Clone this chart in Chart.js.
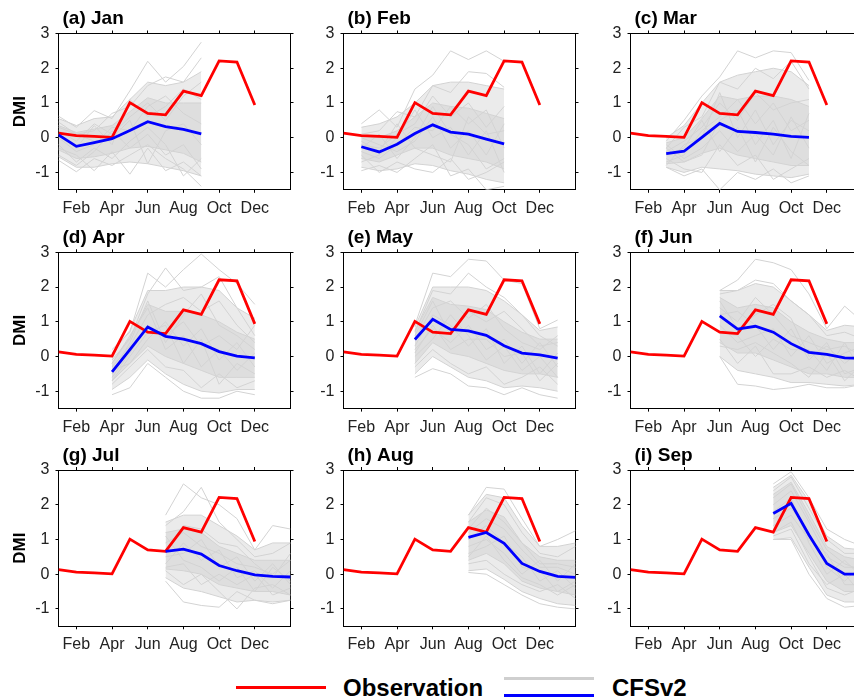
<!DOCTYPE html>
<html>
<head>
<meta charset="utf-8">
<script src="https://cdn.jsdelivr.net/npm/chart.js@4"></script>
<style>
  html, body { margin: 0; padding: 0; background: #fff; overflow: hidden; width: 854px; height: 699px; }
  body { position: relative; font-family: "Liberation Sans", Arial, sans-serif; }
  canvas { position: absolute; }
  .key { position: absolute; height: 3px; width: 90px; }
  .keytext { position: absolute; font-weight: bold; font-size: 24px; line-height: 24px; color: #000; white-space: nowrap; }
</style>
</head>
<body>
<div class="key" style="left:236px; top:686px; background:#ff0000;"></div>
<div class="keytext" style="left:343px; top:675.7px;">Observation</div>
<div class="key" style="left:504px; top:677px; background:#cfcfcf;"></div>
<div class="key" style="left:504px; top:693.5px; background:#0000ff;"></div>
<div class="keytext" style="left:612px; top:675.7px;">CFSv2</div>

<script>
// ---- axis labels -------------------------------------------------------
const monthNames = ['Jan', 'Feb', 'Mar', 'Apr', 'May', 'Jun', 'Jul', 'Aug', 'Sep', 'Oct', 'Nov', 'Dec'];
const tickMonths = [2, 4, 6, 8, 10, 12];
const dmiTicks = [-1, 0, 1, 2, 3];

// ---- observed monthly DMI, Jan..Dec -------------------------------------
const observedDMI = [0.13, 0.06, 0.04, 0.01, 1.01, 0.70, 0.66, 1.34, 1.21, 2.21, 2.18, 0.94];

// ---- forecast panels (initial month, 9 lead months each) ---------------
const panelTitles = ['(a) Jan', '(b) Feb', '(c) Mar', '(d) Apr', '(e) May', '(f) Jun', '(g) Jul', '(h) Aug', '(i) Sep'];
const initMonths = [1, 2, 3, 4, 5, 6, 7, 8, 9];

// Jan start: ensemble mean, outer / inner spread bounds, individual members
const meanJan = [0.08, -0.25, -0.14, -0.03, 0.21, 0.46, 0.32, 0.24, 0.11];
const outerLowJan  = [-0.55, -0.85, -0.85, -0.75, -0.7, -0.75, -0.85, -0.95, -1.1];
const outerHighJan = [0.55, 0.35, 0.55, 0.6, 1.1, 1.6, 1.5, 1.6, 1.9];
const innerLowJan  = [-0.35, -0.6, -0.55, -0.45, -0.3, -0.25, -0.35, -0.45, -0.7];
const innerHighJan = [0.35, 0.15, 0.25, 0.35, 0.75, 1.15, 1.0, 1.0, 1.0];
const membersJan = [
  [0.62, 0.3, 0.78, 0.55, 1.35, 2.2, 1.6, 2.05, 2.75],
  [0.45, 0.1, 0.2, 0.7, 0.9, 1.5, 1.75, 1.6, 2.3],
  [-0.65, -0.98, -0.6, -0.8, -0.5, -0.2, -0.6, -0.9, -1.4],
  [-0.3, -0.5, -0.95, -0.4, -1.05, -0.3, -0.95, -0.7, -1.1],
  [0.2, -0.1, 0.4, 0.1, 0.6, 1.0, 0.5, 1.2, 1.6],
  [0.0, -0.4, -0.2, 0.3, 0.2, 0.9, 1.2, 0.7, 0.4],
  [-0.2, -0.7, -0.3, -0.6, -0.1, 0.3, -0.2, -1.1, -0.6],
  [0.3, 0.1, -0.1, 0.0, 0.5, -0.75, 0.2, 0.4, -0.2],
  [0.1, -0.3, 0.35, -0.2, 1.1, 0.6, 0.9, 1.4, 1.1],
  [-0.5, -0.8, -0.4, 0.2, -0.3, 0.1, -0.5, -0.2, -0.9]
];

// Feb start
const meanFeb = [-0.26, -0.41, -0.19, 0.12, 0.37, 0.16, 0.10, -0.04, -0.18];
const outerLowFeb  = [-0.85, -0.95, -0.9, -0.75, -0.8, -0.95, -1.05, -1.2, -1.3];
const outerHighFeb = [0.3, 0.4, 0.6, 1.0, 1.5, 1.6, 1.6, 1.5, 1.4];
const innerLowFeb  = [-0.6, -0.7, -0.5, -0.3, -0.3, -0.5, -0.6, -0.7, -0.9];
const innerHighFeb = [0.05, 0.0, 0.2, 0.6, 1.0, 0.9, 0.85, 0.7, 0.55];
const membersFeb = [
  [0.4, 0.8, 0.3, 1.4, 1.8, 2.5, 2.25, 2.5, 2.2],
  [0.1, 0.2, 0.75, 0.6, 1.5, 1.3, 1.9, 1.85, 1.45],
  [-0.95, -0.8, -1.0, -0.6, -0.2, -1.1, -0.9, -1.5, -1.4],
  [-0.5, -1.0, -0.7, -0.9, -1.0, -0.6, -1.2, -1.0, -0.7],
  [-0.2, -0.3, 0.1, 0.4, 1.2, 0.6, 1.0, 0.3, 0.9],
  [-0.4, -0.6, -0.2, 0.3, 0.2, 0.9, 0.4, 0.8, -0.3],
  [0.0, -0.2, -0.4, -0.1, 0.6, -0.3, 0.2, -0.5, 0.4],
  [-0.7, -0.5, 0.0, 0.8, 0.0, 0.3, -0.5, 0.2, -1.0],
  [-0.3, 0.1, -0.6, 0.0, 0.9, 0.1, -0.2, -0.9, -0.6],
  [-0.1, -0.4, 0.4, -0.3, -0.5, -0.7, 0.6, 0.1, 0.2]
];

// Mar start
const meanMar = [-0.46, -0.39, 0.01, 0.41, 0.18, 0.15, 0.10, 0.04, 0.01];
const outerLowMar  = [-0.85, -1.0, -0.85, -0.9, -0.95, -1.05, -1.1, -1.15, -1.05];
const outerHighMar = [0.0, 0.35, 1.0, 1.6, 1.8, 1.9, 2.0, 1.9, 1.5];
const innerLowMar  = [-0.75, -0.7, -0.45, -0.3, -0.5, -0.6, -0.7, -0.8, -0.8];
const innerHighMar = [-0.15, 0.0, 0.55, 1.2, 1.1, 1.2, 1.2, 1.1, 0.9];
const membersMar = [
  [-0.1, 0.5, 1.2, 1.75, 2.5, 2.3, 2.5, 2.45, 1.65],
  [-0.3, 0.3, 0.6, 1.6, 1.4, 2.0, 1.7, 2.2, 1.4],
  [-0.85, -1.1, -0.9, -1.5, -1.0, -1.2, -0.9, -1.3, -1.1],
  [-0.6, -0.9, -1.0, -0.2, -0.8, -0.5, -1.2, -0.9, -0.6],
  [-0.4, -0.1, 0.3, 1.0, 0.5, 1.3, 0.8, 1.0, 1.1],
  [-0.7, -0.5, 0.2, 0.6, 1.1, 0.4, 1.0, 0.2, 0.5],
  [-0.2, -0.6, -0.3, 0.2, -0.4, 0.1, -0.5, 0.6, -0.3],
  [-0.5, -0.3, 0.5, -0.4, 0.3, -0.7, 0.3, -0.4, -0.8],
  [-0.8, -0.2, 0.0, 1.3, 0.0, 0.8, -0.2, 0.5, 0.2],
  [-0.3, -0.7, -0.5, 0.5, 0.8, -0.2, 0.5, -0.6, 0.7]
];

// Apr start
const meanApr = [-0.44, 0.2, 0.85, 0.58, 0.50, 0.37, 0.14, 0.01, -0.04];
const outerLowApr  = [-0.95, -0.6, -0.1, -0.5, -0.8, -1.0, -1.05, -0.95, -0.95];
const outerHighApr = [0.1, 0.75, 1.9, 1.9, 2.0, 2.0, 1.9, 1.4, 1.1];
const innerLowApr  = [-0.7, -0.2, 0.3, 0.0, -0.2, -0.4, -0.6, -0.6, -0.6];
const innerHighApr = [-0.2, 0.55, 1.5, 1.3, 1.3, 1.2, 1.0, 0.7, 0.5];
const membersApr = [
  [0.2, 0.7, 2.4, 2.0, 2.5, 2.95, 2.5, 2.1, 1.5],
  [-0.1, 0.5, 1.8, 2.55, 1.9, 2.0, 2.3, 1.4, 0.6],
  [-1.1, -0.9, -0.2, -0.6, -1.0, -1.2, -1.2, -1.0, -1.1],
  [-0.8, -0.3, 0.2, -0.3, -0.4, -0.9, -0.5, -0.9, -0.7],
  [-0.3, 0.3, 1.2, 1.5, 1.7, 1.3, 1.6, 0.9, 0.4],
  [-0.6, 0.1, 0.9, 0.6, 1.0, 0.3, 0.6, 0.2, 0.9],
  [-0.4, -0.2, 0.5, 1.0, 0.3, 0.8, -0.1, 0.4, -0.3],
  [-0.2, 0.6, 1.4, 0.2, 0.6, -0.3, 0.2, -0.4, 0.1],
  [-0.7, 0.0, 0.7, 0.9, -0.2, 0.5, -0.8, -0.2, -0.5],
  [-0.5, 0.4, 1.6, 0.4, 1.2, 1.8, 0.9, 0.6, 0.2]
];

// May start
const meanMay = [0.49, 1.07, 0.78, 0.74, 0.61, 0.31, 0.10, 0.05, -0.05];
const outerLowMay  = [-0.5, 0.0, -0.3, -0.6, -0.7, -0.9, -0.85, -0.9, -1.0];
const outerHighMay = [0.85, 2.0, 2.0, 2.0, 1.9, 1.6, 1.2, 0.75, 0.85];
const innerLowMay  = [-0.2, 0.4, 0.1, 0.0, -0.2, -0.4, -0.5, -0.5, -0.6];
const innerHighMay = [0.75, 1.7, 1.5, 1.45, 1.35, 1.0, 0.7, 0.5, 0.5];
const membersMay = [
  [0.9, 2.4, 2.3, 2.8, 2.75, 2.2, 2.1, 0.8, 1.05],
  [0.7, 1.9, 1.8, 2.4, 2.0, 1.7, 1.2, 0.6, 0.3],
  [-0.6, -0.35, -0.5, -0.85, -0.9, -1.1, -0.9, -1.1, -1.2],
  [-0.3, 0.2, -0.2, -0.5, -0.3, -0.8, -0.6, -0.3, -0.8],
  [0.5, 1.4, 1.6, 1.1, 1.5, 0.8, 0.4, 0.2, 0.6],
  [0.2, 0.8, 0.4, 0.9, 0.2, 0.5, -0.2, 0.4, -0.3],
  [0.3, 1.2, 0.9, 0.3, 0.8, -0.2, 0.3, -0.5, 0.1],
  [0.0, 0.5, 1.2, 0.6, -0.1, 0.3, -0.4, 0.0, -0.6],
  [0.6, 1.6, 0.6, 1.3, 1.0, 1.3, 0.8, 0.3, 0.4],
  [0.1, 0.9, 0.2, 0.5, 0.5, 0.0, 0.1, -0.7, -0.2]
];

// Jun start
const meanJun = [1.17, 0.79, 0.87, 0.70, 0.37, 0.12, 0.06, -0.04, -0.05];
const outerLowJun  = [0.0, -0.4, -0.5, -0.6, -0.75, -0.75, -0.8, -0.85, -0.8];
const outerHighJun = [1.9, 1.9, 2.1, 2.0, 1.6, 1.2, 0.75, 0.9, 0.85];
const innerLowJun  = [0.4, 0.1, 0.1, -0.1, -0.3, -0.5, -0.5, -0.6, -0.6];
const innerHighJun = [1.7, 1.4, 1.5, 1.4, 1.0, 0.7, 0.5, 0.4, 0.4];
const membersJun = [
  [1.9, 2.2, 2.8, 2.7, 2.5, 1.8, 0.8, 1.45, 1.0],
  [1.8, 1.9, 2.2, 2.1, 1.6, 1.2, 0.6, 0.7, 0.5],
  [0.0, -0.8, -0.85, -0.95, -0.9, -0.8, -0.9, -0.9, -0.8],
  [0.5, -0.2, 0.3, -0.5, -0.5, -0.3, -0.6, -0.4, -0.7],
  [1.4, 1.0, 1.7, 1.2, 0.6, 0.4, 0.2, 0.3, 0.0],
  [0.9, 0.4, 0.6, 0.8, 0.0, 0.6, -0.2, 0.1, 0.3],
  [1.2, 1.3, 0.9, 0.2, 0.8, -0.1, 0.4, -0.5, -0.3],
  [0.7, 0.6, 0.0, 0.5, 0.2, 0.2, -0.4, 0.4, -0.5],
  [1.6, 0.8, 1.2, 1.5, 1.1, 0.0, 0.3, -0.2, 0.2],
  [0.3, 0.2, 0.4, 0.1, -0.2, -0.6, 0.1, -0.7, -0.2]
];

// Jul start
const meanJul = [0.66, 0.72, 0.58, 0.25, 0.10, -0.02, -0.06, -0.08, -0.10];
const outerLowJul  = [-0.1, -0.4, -0.5, -0.65, -0.8, -0.75, -0.8, -0.75, -0.75];
const outerHighJul = [1.5, 1.7, 1.7, 1.4, 1.1, 0.7, 0.9, 0.9, 0.8];
const innerLowJul  = [0.15, 0.1, 0.0, -0.3, -0.4, -0.5, -0.5, -0.6, -0.6];
const innerHighJul = [1.2, 1.3, 1.2, 0.8, 0.6, 0.4, 0.4, 0.4, 0.35];
const membersJul = [
  [1.7, 2.6, 2.2, 2.0, 1.6, 0.7, 1.4, 1.3, 0.9],
  [1.4, 1.8, 2.5, 1.5, 1.0, 0.5, 0.6, 0.9, 0.6],
  [-0.2, -0.8, -0.9, -0.95, -0.5, -0.75, -0.85, -0.75, -0.8],
  [0.1, -0.3, 0.0, -0.5, -1.0, -0.4, -0.3, -0.6, -0.5],
  [0.9, 1.2, 0.8, 0.6, 0.3, 0.2, 0.0, 0.4, 0.1],
  [0.5, 0.6, 1.0, 0.2, 0.5, -0.2, 0.3, -0.3, -0.2],
  [0.3, 0.9, 0.4, 0.7, -0.1, 0.1, -0.4, 0.1, -0.4],
  [1.1, 0.4, 0.2, -0.2, 0.2, -0.5, 0.2, -0.2, 0.3],
  [0.7, 1.4, 1.3, 0.9, 0.8, 0.3, -0.1, 0.6, 0.0],
  [0.2, 0.3, -0.3, 0.0, -0.3, 0.0, -0.6, -0.4, -0.7]
];

// Aug start
const meanAug = [1.06, 1.2, 0.89, 0.31, 0.08, -0.06, -0.09, -0.10, -0.10];
const outerLowAug  = [0.1, 0.15, -0.15, -0.5, -0.7, -0.85, -0.9, -0.9, -0.9];
const outerHighAug = [1.7, 2.3, 2.2, 1.4, 0.8, 0.8, 0.9, 0.8, 0.8];
const innerLowAug  = [0.4, 0.6, 0.3, -0.2, -0.4, -0.5, -0.6, -0.6, -0.6];
const innerHighAug = [1.5, 1.85, 1.65, 0.9, 0.5, 0.4, 0.4, 0.4, 0.4];
const membersAug = [
  [1.7, 2.5, 2.45, 1.6, 0.8, 1.0, 1.25, 1.0, 0.8],
  [1.5, 2.2, 2.0, 1.2, 0.6, 0.5, 0.8, 0.6, 0.5],
  [0.05, 0.0, -0.3, -0.6, -0.85, -0.95, -1.0, -0.9, -0.9],
  [0.3, 0.4, 0.0, -0.3, -0.5, -0.3, -0.7, -0.5, -0.6],
  [1.2, 1.6, 1.3, 0.7, 0.2, 0.2, 0.0, 0.3, 0.1],
  [0.8, 1.0, 0.6, 0.0, 0.4, -0.2, 0.3, -0.2, 0.0],
  [1.0, 1.4, 0.9, 0.5, -0.2, 0.1, -0.4, 0.1, -0.3],
  [0.6, 0.8, 1.1, 0.2, 0.1, -0.5, -0.2, -0.4, -0.2],
  [1.3, 1.9, 1.5, 0.9, 0.3, 0.3, 0.2, 0.5, 0.3],
  [0.5, 1.1, 0.4, -0.1, -0.3, -0.6, -0.3, -0.7, -0.5]
];

// Sep start
const meanSep = [1.75, 2.04, 1.13, 0.31, 0.0, 0.0, -0.02, -0.03, -0.04];
const outerLowSep  = [1.0, 1.05, 0.2, -0.6, -0.8, -0.8, -0.75, -0.7, -0.7];
const outerHighSep = [2.5, 2.85, 2.1, 1.1, 0.75, 0.7, 0.6, 0.6, 0.6];
const innerLowSep  = [1.2, 1.4, 0.6, -0.2, -0.5, -0.5, -0.5, -0.5, -0.5];
const innerHighSep = [2.3, 2.65, 1.75, 0.8, 0.5, 0.4, 0.4, 0.4, 0.4];
const membersSep = [
  [2.6, 2.95, 2.2, 1.3, 1.0, 0.8, 0.7, 0.6, 0.5],
  [2.4, 2.8, 1.9, 1.0, 0.6, 0.6, 0.4, 0.5, 0.3],
  [1.0, 1.0, 0.0, -0.7, -0.95, -0.9, -0.8, -0.7, -0.7],
  [1.2, 1.5, 0.5, -0.4, -0.6, -0.4, -0.6, -0.5, -0.4],
  [2.0, 2.4, 1.5, 0.5, 0.2, 0.2, 0.1, 0.2, 0.0],
  [1.6, 1.9, 1.2, 0.2, -0.2, 0.3, -0.1, -0.2, 0.1],
  [1.8, 2.2, 0.9, 0.0, 0.4, -0.1, 0.2, 0.0, -0.2],
  [1.4, 1.7, 1.0, 0.6, -0.3, -0.3, -0.3, -0.3, -0.3],
  [2.2, 2.6, 1.6, 0.7, 0.3, 0.1, 0.3, 0.1, 0.2],
  [1.1, 1.3, 0.3, -0.3, 0.0, -0.6, -0.2, -0.4, -0.5]
];

const panelMeans      = [meanJan, meanFeb, meanMar, meanApr, meanMay, meanJun, meanJul, meanAug, meanSep];
const panelOuterLows  = [outerLowJan, outerLowFeb, outerLowMar, outerLowApr, outerLowMay, outerLowJun, outerLowJul, outerLowAug, outerLowSep];
const panelOuterHighs = [outerHighJan, outerHighFeb, outerHighMar, outerHighApr, outerHighMay, outerHighJun, outerHighJul, outerHighAug, outerHighSep];
const panelInnerLows  = [innerLowJan, innerLowFeb, innerLowMar, innerLowApr, innerLowMay, innerLowJun, innerLowJul, innerLowAug, innerLowSep];
const panelInnerHighs = [innerHighJan, innerHighFeb, innerHighMar, innerHighApr, innerHighMay, innerHighJun, innerHighJul, innerHighAug, innerHighSep];
const panelMembers    = [membersJan, membersFeb, membersMar, membersApr, membersMay, membersJun, membersJul, membersAug, membersSep];

// ---- layout -------------------------------------------------------------
const FONT = '"Liberation Sans", Arial, Helvetica, sans-serif';
const CANVAS_W = 303, CANVAS_H = 222;
const PLOT_W = 232, PLOT_H = 156.3;
const LEFT_AXIS_W = 58.5;
const colLeft = [0, 285, 572];
const rowTop = [0, 219, 437];
const rowTopAxisH = [33.5, 33.3, 33];
const SPREAD_LINE = '#d3d3d3';
const OUTER_FILL = 'rgba(211,211,211,0.45)';
const INNER_FILL = 'rgba(211,211,211,0.55)';

Chart.defaults.font.family = FONT;

const panelTitle = {
  id: 'panelTitle',
  afterDraw(chart, args, opts) {
    const { ctx, chartArea } = chart;
    ctx.save();
    ctx.font = 'bold 19px ' + FONT;
    ctx.fillStyle = '#000';
    ctx.textAlign = 'left';
    ctx.textBaseline = 'alphabetic';
    ctx.fillText(opts.text, chartArea.left + 4, chartArea.top - 9.5);
    ctx.restore();
  }
};

function toPoints(start, values) {
  return values.map((v, i) => ({ x: start + i, y: v }));
}

function frameAxis(position, size, showLabels, extra) {
  const horizontal = position === 'top' || position === 'bottom';
  const axis = {
    type: 'linear',
    position: position,
    min: horizontal ? 1 : -1.5,
    max: horizontal ? 14 : 3,
    afterBuildTicks: s => { s.ticks = (horizontal ? tickMonths : dmiTicks).map(v => ({ value: v })); },
    afterFit: s => { if (horizontal) s.height = size; else s.width = size; },
    grid: { drawOnChartArea: false, drawTicks: true, tickLength: 3, color: '#000', lineWidth: 1 },
    border: { display: true, color: '#000', width: 1 },
    ticks: {
      display: showLabels,
      autoSkip: false,
      maxRotation: 0,
      padding: 6,
      color: '#222',
      font: { family: FONT, size: 16 },
      callback: v => horizontal ? (monthNames[v - 1] || '') : String(v)
    }
  };
  return Object.assign(axis, extra || {});
}

for (let p = 0; p < 9; p++) {
  const col = p % 3, row = Math.floor(p / 3);
  const start = initMonths[p];
  const topH = rowTopAxisH[row];
  const bottomH = CANVAS_H - topH - PLOT_H;
  const rightW = CANVAS_W - LEFT_AXIS_W - PLOT_W;

  const canvas = document.createElement('canvas');
  canvas.width = CANVAS_W;
  canvas.height = CANVAS_H;
  canvas.style.left = colLeft[col] + 'px';
  canvas.style.top = rowTop[row] + 'px';
  canvas.style.width = CANVAS_W + 'px';
  canvas.style.height = CANVAS_H + 'px';
  document.body.appendChild(canvas);

  const datasets = [
    { label: 'CFSv2', data: toPoints(start, panelMeans[p]), borderColor: '#0000ff', borderWidth: 2.8, order: 0 },
    { label: 'Observation', data: toPoints(1, observedDMI), borderColor: '#ff0000', borderWidth: 2.8, order: 1 }
  ];
  panelMembers[p].forEach(m => {
    datasets.push({ label: 'member', data: toPoints(start, m), borderColor: SPREAD_LINE, borderWidth: 1, order: 2 });
  });
  datasets.push({ label: 'outer low', data: toPoints(start, panelOuterLows[p]), borderColor: SPREAD_LINE, borderWidth: 1, order: 4, fill: false });
  datasets.push({ label: 'outer high', data: toPoints(start, panelOuterHighs[p]), borderColor: SPREAD_LINE, borderWidth: 1, order: 4, fill: '-1', backgroundColor: OUTER_FILL });
  datasets.push({ label: 'inner low', data: toPoints(start, panelInnerLows[p]), borderColor: SPREAD_LINE, borderWidth: 1, order: 3, fill: false });
  datasets.push({ label: 'inner high', data: toPoints(start, panelInnerHighs[p]), borderColor: SPREAD_LINE, borderWidth: 1, order: 3, fill: '-1', backgroundColor: INNER_FILL });

  new Chart(canvas, {
    type: 'line',
    data: { datasets },
    options: {
      responsive: false,
      animation: false,
      devicePixelRatio: 1,
      layout: { padding: 0 },
      elements: { point: { radius: 0, hoverRadius: 0 }, line: { tension: 0, borderCapStyle: 'butt' } },
      plugins: {
        legend: { display: false },
        tooltip: { enabled: false },
        title: { display: false },
        panelTitle: { text: panelTitles[p] }
      },
      scales: {
        x: frameAxis('bottom', bottomH, true),
        x2: frameAxis('top', topH, false),
        y: frameAxis('left', LEFT_AXIS_W, true, {
          title: col === 0
            ? { display: true, text: 'DMI', color: '#000', font: { family: FONT, size: 17, weight: 'bold' }, padding: { top: 10, bottom: 0 } }
            : { display: false }
        }),
        y2: frameAxis('right', rightW, false)
      }
    },
    plugins: [panelTitle]
  });
}
</script>
</body>
</html>
